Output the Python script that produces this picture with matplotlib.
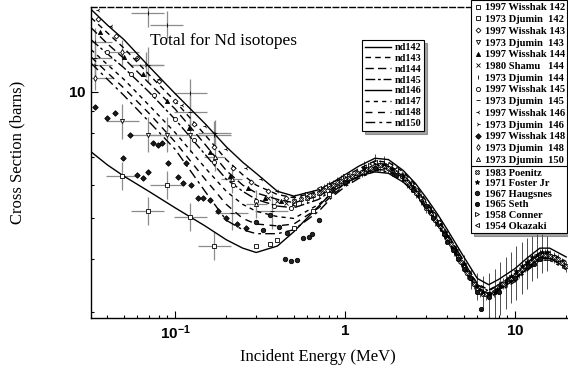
import matplotlib
matplotlib.use("Agg")
import matplotlib.pyplot as plt
from matplotlib.lines import Line2D
from matplotlib.ticker import FixedLocator, NullFormatter

plt.rcParams['font.family'] = ['Liberation Serif', 'DejaVu Serif']
plt.rcParams['mathtext.fontset'] = 'custom'
plt.rcParams['mathtext.rm'] = 'Liberation Sans:bold'
plt.rcParams['mathtext.it'] = 'Liberation Sans:bold'
plt.rcParams['mathtext.bf'] = 'Liberation Sans:bold'

# evaluated curves (MeV, barns)
energy = [0.032, 0.04, 0.05, 0.07, 0.1, 0.15, 0.2, 0.25, 0.3, 0.4, 0.5, 0.7, 0.85, 1.0, 1.2,
          1.5, 1.8, 2.2, 2.6, 3.0, 3.5, 4.0, 5.0, 6.0, 7.0, 8.0, 10.0, 12.0, 14.0, 16.0, 20.0]
nd142 = [7.2, 6.7, 6.3, 5.8, 5.3, 4.8, 4.45, 4.25, 4.15, 4.3, 4.65, 5.35, 5.8, 6.05, 6.3,
         6.45, 6.4, 6.1, 5.72, 5.3, 4.85, 4.45, 3.82, 3.38, 3.28, 3.38, 3.58, 3.82, 4.02, 4.02, 3.82]
nd143 = [15.0, 13.8, 12.7, 11.0, 9.5, 7.9, 6.9, 6.35, 6.0, 5.7, 5.6, 5.8, 6.05, 6.3, 6.55,
         6.85, 6.8, 6.45, 6.0, 5.5, 5.05, 4.6, 3.95, 3.5, 3.38, 3.48, 3.7, 3.95, 4.15, 4.15, 3.95]
nd144 = [14.2, 13.0, 12.0, 10.5, 9.1, 7.5, 6.5, 6.0, 5.75, 5.55, 5.45, 5.65, 5.9, 6.15, 6.4,
         6.7, 6.65, 6.3, 5.85, 5.35, 4.92, 4.5, 3.88, 3.42, 3.3, 3.4, 3.6, 3.85, 4.05, 4.05, 3.88]
nd145 = [13.3, 12.3, 11.4, 10.0, 8.6, 7.1, 6.2, 5.8, 5.55, 5.35, 5.3, 5.55, 5.85, 6.12, 6.4,
         6.75, 6.7, 6.35, 5.9, 5.45, 5.0, 4.6, 3.95, 3.48, 3.36, 3.48, 3.68, 3.92, 4.12, 4.12, 3.92]
nd146 = [15.7, 14.4, 13.3, 11.5, 9.9, 8.4, 7.4, 6.8, 6.4, 5.8, 5.65, 5.85, 6.1, 6.35, 6.65,
         6.95, 6.9, 6.5, 6.05, 5.6, 5.12, 4.7, 4.05, 3.6, 3.48, 3.58, 3.8, 4.05, 4.25, 4.25, 4.05]
nd147 = [12.6, 11.6, 10.7, 9.3, 8.0, 6.6, 5.8, 5.4, 5.2, 5.05, 5.0, 5.4, 5.75, 6.05, 6.3,
         6.6, 6.55, 6.25, 5.82, 5.35, 4.92, 4.5, 3.88, 3.43, 3.32, 3.42, 3.62, 3.88, 4.08, 4.08, 3.88]
nd148 = [12.1, 11.1, 10.2, 8.9, 7.6, 6.2, 5.4, 5.0, 4.85, 4.8, 4.85, 5.3, 5.7, 6.0, 6.28,
         6.55, 6.5, 6.2, 5.78, 5.3, 4.88, 4.45, 3.85, 3.4, 3.28, 3.38, 3.58, 3.83, 4.03, 4.03, 3.83]
nd150 = [11.7, 10.7, 9.8, 8.5, 7.3, 5.8, 4.95, 4.7, 4.6, 4.6, 4.7, 5.2, 5.65, 5.95, 6.22,
         6.5, 6.45, 6.15, 5.72, 5.25, 4.82, 4.4, 3.8, 3.35, 3.24, 3.34, 3.54, 3.78, 3.98, 3.98, 3.78]

curve_names = ['nd142', 'nd143', 'nd144', 'nd145', 'nd146', 'nd147', 'nd148', 'nd150']
curves = [nd142, nd143, nd144, nd145, nd146, nd147, nd148, nd150]

# measurements
wis142_e = [0.3, 0.36, 0.4, 0.5, 0.65, 0.8]
wis142_s = [4.3, 4.35, 4.45, 4.75, 5.2, 5.7]
dju142_e = [0.049, 0.069, 0.089, 0.123, 0.17]
dju142_s = [6.3, 5.2, 6.0, 5.05, 4.3]
wis143_e = [0.035, 0.045, 0.06, 0.08, 0.1, 0.13, 0.17, 0.22, 0.28, 0.35, 0.45]
wis143_s = [14.9, 13.6, 12.0, 10.6, 9.5, 8.4, 7.4, 6.6, 6.1, 5.8, 5.6]
dju143_e = [0.049, 0.069, 0.089, 0.123]
dju143_s = [8.5, 7.9, 7.9, 7.9]
wis144_e = [0.036, 0.05, 0.065, 0.09, 0.12, 0.16, 0.21, 0.27, 0.34, 0.42, 0.5]
wis144_s = [13.9, 12.1, 11.0, 9.5, 8.2, 7.2, 6.3, 5.9, 5.6, 5.5, 5.45]
sha144_e = [0.35, 0.4, 0.45, 0.5, 0.6, 0.7, 0.8, 0.9, 1.0, 1.1, 1.2, 1.3, 1.4]
sha144_s = [5.6, 5.5, 5.45, 5.5, 5.6, 5.75, 5.95, 6.1, 6.2, 6.35, 6.45, 6.55, 6.6]
dju144_e = [0.034, 0.069, 0.089, 0.123, 0.17]
dju144_s = [13.1, 15.4, 14.4, 9.95, 7.9]
wis145_e = [0.04, 0.055, 0.075, 0.1, 0.13, 0.17, 0.22, 0.3, 0.38, 0.48]
wis145_s = [12.4, 11.0, 9.8, 8.6, 7.7, 6.8, 6.0, 5.5, 5.35, 5.3]
dju145_e = [0.034, 0.069, 0.123, 0.215, 0.37]
dju145_s = [12.0, 11.6, 8.95, 5.15, 5.2]
wis146_e = [0.035, 0.042, 0.06, 0.08, 0.11, 0.15, 0.2, 0.26, 0.32, 0.4, 0.5]
wis146_s = [15.6, 14.3, 12.0, 10.7, 9.3, 8.3, 7.3, 6.6, 6.2, 5.8, 5.65]
dju146_e = [0.034, 0.0675, 0.171]
dju146_s = [11.6, 11.6, 8.0]
wis148_e = [0.0338, 0.0397, 0.0443, 0.0541, 0.0741, 0.079, 0.0834, 0.0493, 0.0594, 0.0644, 0.0911, 0.104,
            0.111, 0.116, 0.124, 0.136, 0.146, 0.161, 0.069, 0.18, 0.2, 0.23, 0.26]
wis148_s = [9.2, 8.67, 8.9, 7.9, 7.56, 7.48, 7.56, 6.96, 6.34, 6.24, 6.78, 6.28,
            6.07, 6.78, 6.0, 5.6, 5.6, 5.53, 6.45, 5.2, 5.0, 4.85, 4.75]
dju148_e = [0.034, 0.049]
dju148_s = [10.8, 12.4]
dju150_e = [0.171, 0.215, 0.3]
dju150_s = [7.0, 6.2, 5.4]

poe83_e = [0.5, 0.55, 0.6, 0.65, 0.7, 0.75, 0.8, 0.85, 0.9, 0.95, 1.0, 1.05, 1.1, 1.18, 1.25, 1.32, 1.4,
           1.5, 1.6, 1.7, 1.8, 1.9, 2.0, 2.15, 2.3, 2.45, 2.6, 2.8, 3.0, 3.2, 3.4, 3.6, 3.8, 4.0, 4.2,
           4.4, 4.6, 4.8, 5.0, 5.25, 5.5, 5.75, 6.0, 6.25, 6.5, 6.75, 7.0, 7.5, 8.0, 8.5, 9.0, 9.5,
           10.0, 10.5, 11.0, 11.5, 12.0, 12.5, 13.0, 13.5, 14.0, 14.5, 15.0, 16.0, 17.0, 18.0, 19.0, 20.0]
poe83_s = [5.5, 5.55, 5.6, 5.68, 5.75, 5.85, 5.95, 6.0, 6.1, 6.15, 6.2, 6.25, 6.3, 6.4, 6.45, 6.55, 6.6,
           6.65, 6.7, 6.65, 6.6, 6.5, 6.45, 6.3, 6.1, 5.95, 5.75, 5.55, 5.3, 5.15, 4.95, 4.8, 4.6, 4.5, 4.35,
           4.2, 4.05, 3.95, 3.85, 3.7, 3.6, 3.5, 3.4, 3.35, 3.3, 3.3, 3.3, 3.35, 3.45, 3.5, 3.55, 3.6,
           3.65, 3.72, 3.8, 3.85, 3.9, 3.95, 4.0, 4.05, 4.1, 4.12, 4.1, 4.08, 4.05, 4.0, 3.92, 3.85]
fos71_e = [1.3, 1.5, 1.7, 1.9, 2.2, 2.5, 2.8, 3.2, 3.6, 4.0, 4.5, 5.0, 5.5, 6.0, 6.5, 7.0, 7.6, 8.2, 8.8,
           9.5, 10.2, 11.0, 11.8, 12.6, 13.5, 14.4, 15.4]
fos71_s = [6.6, 6.8, 6.75, 6.55, 6.3, 5.95, 5.6, 5.2, 4.85, 4.55, 4.2, 3.9, 3.6, 3.45, 3.35, 3.3, 3.35,
           3.45, 3.55, 3.65, 3.75, 3.85, 3.95, 4.05, 4.1, 4.15, 4.15]
fos71_err = [0.25, 0.3, 0.3, 0.25, 0.15, 0.15, 0.15, 0.15, 0.15, 0.15, 0.15, 0.2, 0.2, 0.25, 0.3, 0.4,
             0.45, 0.5, 0.5, 0.5, 0.55, 0.55, 0.55, 0.5, 0.5, 0.45, 0.4]
hau67_e = [0.3, 0.33, 0.36, 0.41, 0.441, 0.454, 0.48, 0.518, 0.562, 0.617, 0.64, 0.7]
hau67_s = [4.9, 4.7, 5.1, 4.77, 4.01, 4.62, 3.97, 3.99, 4.49, 4.51, 4.6, 4.95]
set65_e = [1.0, 1.5, 2.0, 2.5, 3.0, 3.3, 3.5, 3.8, 4.0, 4.3, 4.6, 5.0, 5.4, 6.0, 6.3, 7.0, 8.0, 10.0,
           12.0, 13.0, 14.0]
set65_s = [6.1, 6.6, 6.35, 5.85, 5.35, 5.0, 4.85, 4.6, 4.4, 4.2, 4.0, 3.8, 3.6, 3.35, 3.05, 3.25, 3.35,
           3.6, 3.85, 3.9, 4.0]
con58_e = [0.6, 0.8, 1.0, 1.4, 2.0, 2.8, 3.6]
con58_s = [5.7, 6.0, 6.3, 6.7, 6.5, 5.6, 4.9]
oka54_e = [0.5, 0.7, 1.0, 1.5, 2.0]
oka54_s = [5.4, 5.9, 6.35, 6.8, 6.55]

W, H = 568, 369
fig = plt.figure(figsize=(W / 100, H / 100), dpi=100)
ax = fig.add_axes([91 / W, 1 - 318 / H, (W - 91) / W, (318 - 7) / H])
ax.set_xscale('log')
ax.set_yscale('log')
ax.set_xlim(0.032, 20.5)
ax.set_ylim(2.9, 15.9)

styles = ['-', (0, (4, 3)), (0, (6, 3)), (0, (7, 2, 2, 2)), '-', (0, (3, 3)), (0, (5, 4)), (0, (7, 3, 2, 3))]
handles1 = []
for name, vals, ls in zip(curve_names, curves, styles):
    ax.plot(energy, vals, color='black', ls=ls, lw=1.0, zorder=3)
    handles1.append(Line2D([], [], color='black', ls=ls, lw=1.0, label=name))

gray = '0.55'


def pts(e, s, marker, face, label, ms=3):
    ax.plot(e, s, ls='none', marker=marker, ms=ms, mfc=face, mec='black', mew=0.6, zorder=4)
    return Line2D([], [], ls='none', marker=marker, ms=ms, mfc=face, mec='black', mew=0.6, label=label)


def cross(e, s, fx, fy, marker, face, label):
    xe = [[v - v / fx for v in e], [v * fx - v for v in e]]
    ye = [[v - v / fy for v in s], [v * fy - v for v in s]]
    ax.errorbar(e, s, xerr=xe, yerr=ye, fmt='none', ecolor=gray, elinewidth=0.9, zorder=2)
    return pts(e, s, marker, face, label)


h2 = [
    pts(wis142_e, wis142_s, 's', 'white', '1997 Wisshak 142'),
    cross(dju142_e, dju142_s, 1.25, 1.08, 's', 'white', '1973 Djumin  142'),
    pts(wis143_e, wis143_s, 'D', 'white', '1997 Wisshak 143', 2.5),
    cross(dju143_e, dju143_s, 1.25, 1.1, 'v', 'white', '1973 Djumin  143'),
    pts(wis144_e, wis144_s, '^', 'black', '1997 Wisshak 144'),
    pts(sha144_e, sha144_s, 'x', 'black', '1980 Shamu   144'),
    cross(dju144_e, dju144_s, 1.25, 1.08, '|', 'black', '1973 Djumin  144'),
    pts(wis145_e, wis145_s, 'o', 'white', '1997 Wisshak 145'),
    cross(dju145_e, dju145_s, 1.25, 1.1, '_', 'black', '1973 Djumin  145'),
    pts(wis146_e, wis146_s, '3', 'black', '1997 Wisshak 146'),
    cross(dju146_e, dju146_s, 1.25, 1.07, '4', 'black', '1973 Djumin  146'),
    pts(wis148_e, wis148_s, 'D', '0.1', '1997 Wisshak 148', 2.8),
    cross(dju148_e, dju148_s, 1.25, 1.07, 'd', 'white', '1973 Djumin  148'),
    cross(dju150_e, dju150_s, 1.15, 1.08, '^', 'white', '1973 Djumin  150'),
]
ax.errorbar(poe83_e, poe83_s, yerr=[[v * 0.03 for v in poe83_s], [v * 0.03 for v in poe83_s]],
            fmt='none', ecolor='0.3', elinewidth=0.7, zorder=2)
ax.errorbar(fos71_e, fos71_s, yerr=fos71_err, fmt='none', ecolor='0.3', elinewidth=0.7, zorder=2)
h3 = [
    pts(poe83_e, poe83_s, 'X', 'white', '1983 Poenitz'),
    pts(fos71_e, fos71_s, '*', 'black', '1971 Foster Jr', 3.5),
    pts(hau67_e, hau67_s, 'o', '0.15', '1967 Haugsnes', 3.2),
    pts(set65_e, set65_s, '8', '0.1', '1965 Seth', 3.8),
    pts(con58_e, con58_s, '>', 'white', '1958 Conner'),
    pts(oka54_e, oka54_s, '<', 'white', '1954 Okazaki'),
]

# axes styling
for side in ['left', 'bottom']:
    ax.spines[side].set_linewidth(1.0)
ax.spines['right'].set_visible(False)
ax.spines['top'].set_linestyle((0, (4, 2)))
ax.spines['top'].set_linewidth(1.0)

ax.xaxis.set_major_locator(FixedLocator([0.1, 1, 10]))
ax.set_xticklabels(['$10^{-1}$', '$1$', '$10$'])
ax.yaxis.set_major_locator(FixedLocator([10]))
ax.set_yticklabels(['$10$'])
ax.yaxis.set_minor_formatter(NullFormatter())
ax.xaxis.set_minor_formatter(NullFormatter())
ax.tick_params(which='both', direction='in', top=False, right=False, width=0.8, labelsize=11)
ax.tick_params(which='major', length=5)
ax.tick_params(which='minor', length=2.5)
ax.tick_params(axis='x', pad=4)

fig.text(150 / W, 1 - 45 / H, 'Total for Nd isotopes', fontsize=12.5, va='baseline')
fig.text(318 / W, 1 - 357 / H, 'Incident Energy (MeV)', fontsize=12, ha='center', va='center')
fig.text(17 / W, 1 - 152 / H, 'Cross Section (barns)', fontsize=12, ha='center', va='center',
         rotation=90)

leg_kw = dict(frameon=True, fancybox=False, framealpha=1, borderaxespad=0,
              bbox_transform=fig.transFigure)
leg1 = ax.legend(handles=handles1, loc='upper left', bbox_to_anchor=(362 / W, 1 - 40 / H),
                 prop={'weight': 'bold', 'size': 7.3}, shadow=True,
                 handlelength=2.6, handletextpad=0.3, labelspacing=0.17, borderpad=0.3, **leg_kw)
box_w = (567 - 471) / W
leg2 = ax.legend(handles=h2, loc='upper left', bbox_to_anchor=(471 / W, 0.999, box_w, 0), mode='expand',
                 prop={'weight': 'bold', 'size': 7.6}, shadow=False,
                 handlelength=0.8, handletextpad=0.3, labelspacing=0.22, borderpad=0.25, **leg_kw)
leg3 = ax.legend(handles=h3, loc='upper left', bbox_to_anchor=(471 / W, 1 - 166 / H, box_w, 0), mode='expand',
                 prop={'weight': 'bold', 'size': 7.6}, shadow=True,
                 handlelength=0.8, handletextpad=0.3, labelspacing=0.12, borderpad=0.2, **leg_kw)
for lg in (leg1, leg2, leg3):
    lg.get_frame().set_edgecolor('black')
    lg.get_frame().set_linewidth(0.8)
ax.add_artist(leg1)
ax.add_artist(leg2)

fig.savefig('out.png', dpi=100)
